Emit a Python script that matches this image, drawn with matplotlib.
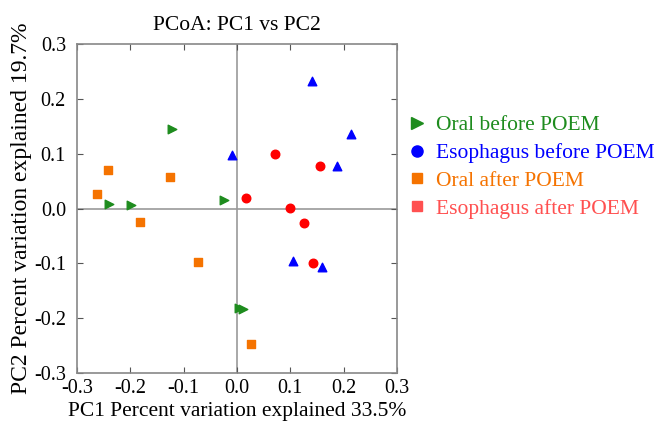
import matplotlib
matplotlib.use("Agg")
import matplotlib.pyplot as plt
from matplotlib.lines import Line2D

plt.rcParams['font.family'] = ['Liberation Serif', 'DejaVu Serif']

# PCoA coordinates
oral_before_x = [-0.121, -0.240, -0.198, -0.024, 0.004, 0.011]
oral_before_y = [0.145, 0.009, 0.007, 0.016, -0.181, -0.183]
eso_before_x = [0.141, 0.213, 0.188, -0.009, 0.105, 0.159]
eso_before_y = [0.232, 0.136, 0.078, 0.098, -0.095, -0.107]
oral_after_x = [-0.242, -0.263, -0.126, -0.182, -0.073, 0.026]
oral_after_y = [0.070, 0.026, 0.058, -0.024, -0.098, -0.248]
eso_after_x = [0.071, 0.156, 0.017, 0.100, 0.125, 0.143]
eso_after_y = [0.099, 0.078, 0.020, 0.001, -0.026, -0.100]

ticks = [-0.3, -0.2, -0.1, 0.0, 0.1, 0.2, 0.3]
tick_labels = ['-0.3', '-0.2', '-0.1', '0.0', '0.1', '0.2', '0.3']

green = '#1e8c1e'
orange = '#f57300'

fig = plt.figure(figsize=(6.54, 4.25), dpi=100)
ax = fig.add_axes([77/654, 1-373/425, 320/654, 329/425])

ax.axhline(0, color='#999999', lw=1.2, zorder=1)
ax.axvline(0, color='#999999', lw=1.2, zorder=1)

ax.scatter(oral_before_x, oral_before_y, marker='>', s=38, color=green, zorder=3)
ax.scatter(eso_before_x, eso_before_y, marker='^', s=38, color='blue', zorder=3)
ax.scatter(oral_after_x, oral_after_y, marker='s', s=36, color=orange, zorder=3)
ax.scatter(eso_after_x, eso_after_y, marker='o', s=38, color='red', zorder=3)

ax.set_xlim(-0.3, 0.3)
ax.set_ylim(-0.3, 0.3)
ax.set_xticks(ticks)
ax.set_xticklabels(tick_labels)
ax.set_yticks(ticks)
ax.set_yticklabels(tick_labels)
ax.tick_params(direction='in', top=True, right=True, length=4, color='#555555',
               labelsize=14.5)
ax.tick_params(axis='x', pad=4)
ax.tick_params(axis='y', pad=8)
for sp in ax.spines.values():
    sp.set_color('#888888')
    sp.set_linewidth(1.2)

ax.set_title('PCoA: PC1 vs PC2', fontsize=15.5, pad=10)
ax.set_xlabel('PC1 Percent variation explained 33.5%', fontsize=15.5, labelpad=3)
ax.set_ylabel('PC2 Percent variation explained 19.7%', fontsize=17, labelpad=1)

handles = [
    Line2D([], [], ls='', marker='>', ms=8, color=green),
    Line2D([], [], ls='', marker='o', ms=8, color='blue'),
    Line2D([], [], ls='', marker='s', ms=7, color=orange),
    Line2D([], [], ls='', marker='s', ms=7, color='#ff5050'),
]
names = ['Oral before POEM', 'Esophagus before POEM', 'Oral after POEM', 'Esophagus after POEM']
leg = ax.legend(handles, names, loc='center left', bbox_to_anchor=(1.035, 0.626),
                frameon=False, fontsize=15.5, handlelength=0.8, handletextpad=0.5,
                labelspacing=0.36, borderaxespad=0, borderpad=0)
for txt, h in zip(leg.get_texts(), handles):
    txt.set_color(h.get_color())

fig.savefig('out.png', dpi=100)
